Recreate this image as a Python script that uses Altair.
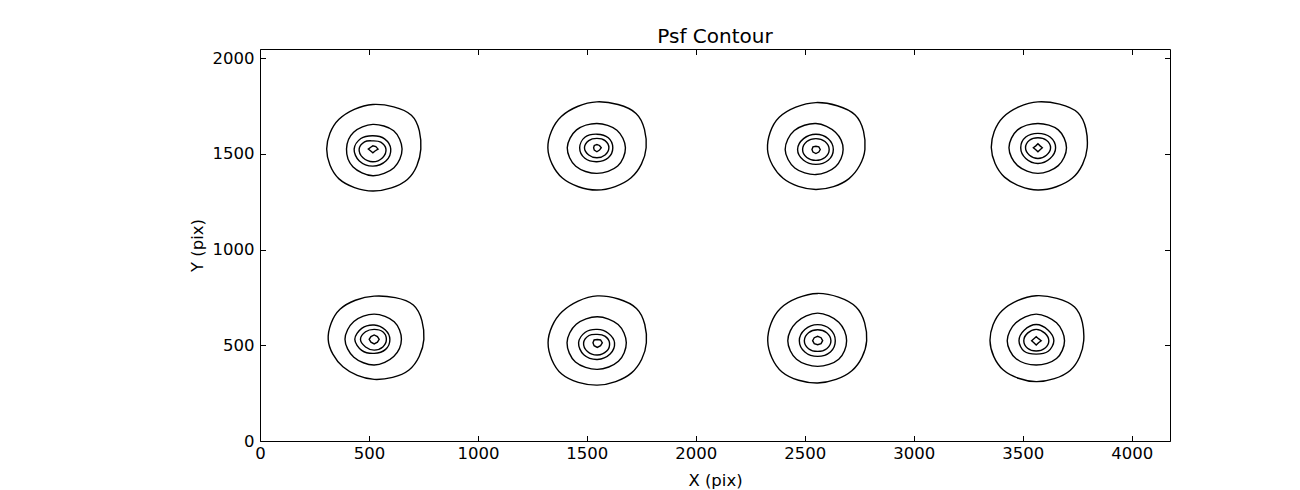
import math
import altair as alt
import pandas as pd

# PSF centres (data units, pixels on the detector)
psf_x = [518, 1546, 2551, 3570, 524, 1548, 2559, 3562]
psf_y = [1525, 1532, 1523, 1532, 531, 513, 524, 524]

# Contour radii (data units) in the directions E, NE, N, NW, W, SW, S, SE
level1 = [
    [220, 250, 233, 220, 212, 220, 219, 224],
    [226, 254, 240, 231, 225, 224, 221, 222],
    [225, 255, 245, 238, 222, 213, 209, 215],
    [226, 259, 240, 226, 214, 217, 221, 224],
    [228, 254, 226, 222, 211, 203, 209, 226],
    [225, 254, 245, 229, 226, 231, 221, 222],
    [225, 249, 247, 240, 229, 231, 221, 222],
    [218, 249, 235, 222, 212, 215, 214, 220],
]
level2 = [
    [134, 135, 129, 125, 121, 130, 139, 137],
    [131, 130, 127, 132, 136, 137, 134, 135],
    [125, 127, 136, 140, 141, 137, 131, 127],
    [131, 132, 127, 132, 133, 132, 134, 132],
    [125, 130, 132, 132, 134, 132, 134, 127],
    [133, 135, 136, 137, 139, 142, 139, 137],
    [133, 137, 144, 137, 137, 137, 134, 137],
    [130, 132, 139, 132, 133, 132, 127, 132],
]
level3 = [
    [82, 76, 70, 78, 86, 88, 89, 86],
    [73, 74, 71, 78, 79, 78, 73, 74],
    [80, 80, 80, 80, 84, 80, 78, 80],
    [81, 79, 75, 79, 79, 79, 82, 79],
    [72, 71, 75, 81, 89, 81, 73, 74],
    [79, 71, 70, 78, 86, 88, 87, 83],
    [81, 83, 84, 83, 84, 83, 82, 83],
    [81, 78, 85, 78, 79, 78, 70, 78],
]
level4 = [
    [60, 51, 43, 54, 63, 64, 66, 63],
    [55, 53, 49, 53, 57, 53, 52, 53],
    [61, 59, 57, 59, 61, 59, 57, 59],
    [58, 55, 52, 55, 57, 55, 56, 55],
    [56, 56, 52, 56, 63, 56, 56, 56],
    [56, 49, 44, 54, 63, 64, 64, 61],
    [61, 59, 57, 59, 61, 59, 56, 59],
    [58, 56, 59, 56, 57, 56, 54, 56],
]
level5 = [
    [24, 19, 17, 14, 21, 14, 19, 14],
    [20, 17, 17, 17, 15, 17, 21, 17],
    [20, 19, 17, 19, 18, 19, 21, 19],
    [20, 14, 21, 14, 21, 14, 21, 14],
    [23, 21, 23, 21, 23, 21, 24, 21],
    [23, 21, 17, 21, 20, 21, 24, 21],
    [23, 22, 23, 22, 23, 22, 21, 22],
    [23, 15, 21, 15, 21, 15, 23, 15],
]
directions_deg = [0, 45, 90, 135, 180, 225, 270, 315]

x_ticks = [0, 500, 1000, 1500, 2000, 2500, 3000, 3500, 4000]
y_ticks = [0, 500, 1000, 1500, 2000]
x_domain = [0, 4176]
y_domain = [0, 2048]

rows = []
for lev, radii in enumerate([level1, level2, level3, level4, level5], start=1):
    for i in range(len(psf_x)):
        for k, ang in enumerate(directions_deg):
            r = radii[i][k]
            a = math.radians(ang)
            rows.append({
                "x": psf_x[i] + r * math.cos(a),
                "y": psf_y[i] + r * math.sin(a),
                "level": lev,
                "cid": f"{i}-{lev}",
                "k": k,
            })
df = pd.DataFrame(rows)

W, H = 910, 392
TICK = 5.5
xs = alt.Scale(domain=x_domain, nice=False, zero=False)
ys = alt.Scale(domain=y_domain, nice=False, zero=False)

base = alt.Chart(df)

smooth = base.transform_filter("datum.level < 5").mark_line(
    interpolate="cardinal-closed", color="black", strokeWidth=1.4
).encode(
    x=alt.X("x:Q", scale=xs, axis=alt.Axis(
        orient="bottom", values=x_ticks, title="X (pix)", ticks=False, tickSize=0,
        domain=False, grid=False, labelPadding=4, titlePadding=11, format="d",
        labelFlush=False)),
    y=alt.Y("y:Q", scale=ys, axis=alt.Axis(
        orient="left", values=y_ticks, title="Y (pix)", ticks=False, tickSize=0,
        domain=False, grid=False, labelPadding=6, titlePadding=7, format="d",
        labelFlush=False)),
    detail="cid:N",
    order="k:O",
)

inner = base.transform_filter("datum.level == 5").mark_line(
    interpolate="linear-closed", color="black", strokeWidth=1.4
).encode(
    x=alt.X("x:Q", scale=xs, axis=None),
    y=alt.Y("y:Q", scale=ys, axis=None),
    detail="cid:N",
    order="k:O",
)

ticks_a = base.mark_line(strokeOpacity=0).encode(
    x=alt.X("x:Q", scale=xs, axis=alt.Axis(
        orient="top", offset=-H, values=x_ticks, labels=False, title="",
        domain=False, grid=False, ticks=True, tickSize=TICK, tickColor="black", tickWidth=1)),
    y=alt.Y("y:Q", scale=ys, axis=alt.Axis(
        orient="right", offset=-W, values=y_ticks, labels=False, title="",
        domain=False, grid=False, ticks=True, tickSize=TICK, tickColor="black", tickWidth=1)),
    detail="cid:N",
    order="k:O",
)

ticks_b = base.mark_line(strokeOpacity=0).encode(
    x=alt.X("x:Q", scale=xs, axis=alt.Axis(
        orient="bottom", offset=-H, values=x_ticks, labels=False, title="",
        domain=False, grid=False, ticks=True, tickSize=TICK, tickColor="black", tickWidth=1)),
    y=alt.Y("y:Q", scale=ys, axis=alt.Axis(
        orient="left", offset=-W, values=y_ticks, labels=False, title="",
        domain=False, grid=False, ticks=True, tickSize=TICK, tickColor="black", tickWidth=1)),
    detail="cid:N",
    order="k:O",
)

chart = alt.layer(smooth, inner, ticks_a, ticks_b).resolve_axis(
    x="independent", y="independent"
).properties(
    width=W,
    height=H,
    title=alt.TitleParams("Psf Contour", font="DejaVu Sans", fontSize=20,
                          fontWeight="normal", color="black", anchor="middle", offset=2),
    autosize=alt.AutoSizeParams(type="none"),
    padding={"left": 252, "top": 41, "right": 60, "bottom": 49},
).configure_view(
    stroke="black", strokeWidth=1
).configure_axis(
    labelFont="DejaVu Sans", labelFontSize=16.5, labelColor="black",
    titleFont="DejaVu Sans", titleFontSize=16.5, titleFontWeight="normal", titleColor="black",
)

chart.save("out.html", embed_options={"renderer": "svg", "actions": False})
